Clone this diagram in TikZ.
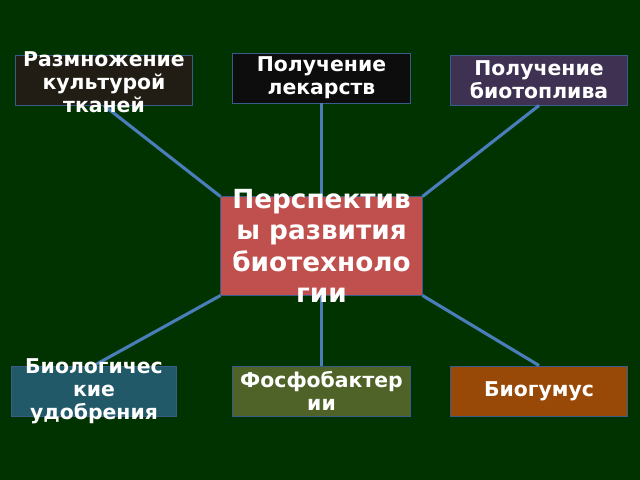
\documentclass[tikz,border=0pt]{standalone}
\usepackage{fontspec}
\setmainfont{DejaVu Sans}
\definecolor{bg}{RGB}{0,51,0}
\definecolor{edge}{RGB}{56,93,138}
\definecolor{wire}{RGB}{74,126,187}
\begin{document}
\begin{tikzpicture}[x=0.025cm,y=-0.025cm,
    box/.style={draw=edge, line width=0.7pt, inner sep=0pt, minimum height=1.25cm},
    txt/.style={text=white, align=center, inner sep=0pt,
                font=\bfseries\fontsize{14.5}{16.3}\selectfont},
    big/.style={text=white, align=center, inner sep=0pt,
                font=\bfseries\fontsize{18.7}{22.3}\selectfont}]

    \fill[bg] (0,0) rectangle (640,480);

    \node[box, fill={rgb,255:red,33;green,29;blue,20}, minimum width=4.4cm]   (b1) at (104,80)    {};
    \node[box, fill={rgb,255:red,13;green,13;blue,13}, minimum width=4.425cm] (b2) at (321.5,78)  {};
    \node[box, fill={rgb,255:red,63;green,49;blue,81}, minimum width=4.4cm]   (b3) at (539,80)    {};
    \node[box, fill={rgb,255:red,192;green,80;blue,77}, minimum width=5.025cm,
          minimum height=2.45cm]                                               (c)  at (321.5,246) {};
    \node[box, fill={rgb,255:red,33;green,89;blue,104}, minimum width=4.1cm]  (b4) at (94,391)    {};
    \node[box, fill={rgb,255:red,79;green,98;blue,40}, minimum width=4.425cm] (b5) at (321.5,391) {};
    \node[box, fill={rgb,255:red,152;green,72;blue,7}, minimum width=4.4cm]   (b6) at (539,391)   {};

    \begin{scope}[every path/.style={draw=wire, line width=2.2pt}]
       \draw (c.north west) -- (b1.south);
       \draw (c.north)      -- (b2.south);
       \draw (c.north east) -- (b3.south);
       \draw (c.south west) -- (b4.north);
       \draw (c.south)      -- (b5.north);
       \draw (c.south east) -- (b6.north);
    \end{scope}

    \node[txt] (t1) at (104,82) {Размножение\\культурой\\тканей};
    \node[txt] (t2) at (b2) {Получение\\лекарств};
    \node[txt] (t3) at (b3) {Получение\\биотоплива};
    \node[big] (tc) at (c)  {Перспектив\\ы развития\\биотехноло\\гии};
    \node[txt] (t4) at (b4) {Биологичес\\кие\\удобрения};
    \node[txt] (t5) at (b5) {Фосфобактер\\ии};
    \node[txt] (t6) at (b6) {Биогумус};

\end{tikzpicture}
\end{document}
